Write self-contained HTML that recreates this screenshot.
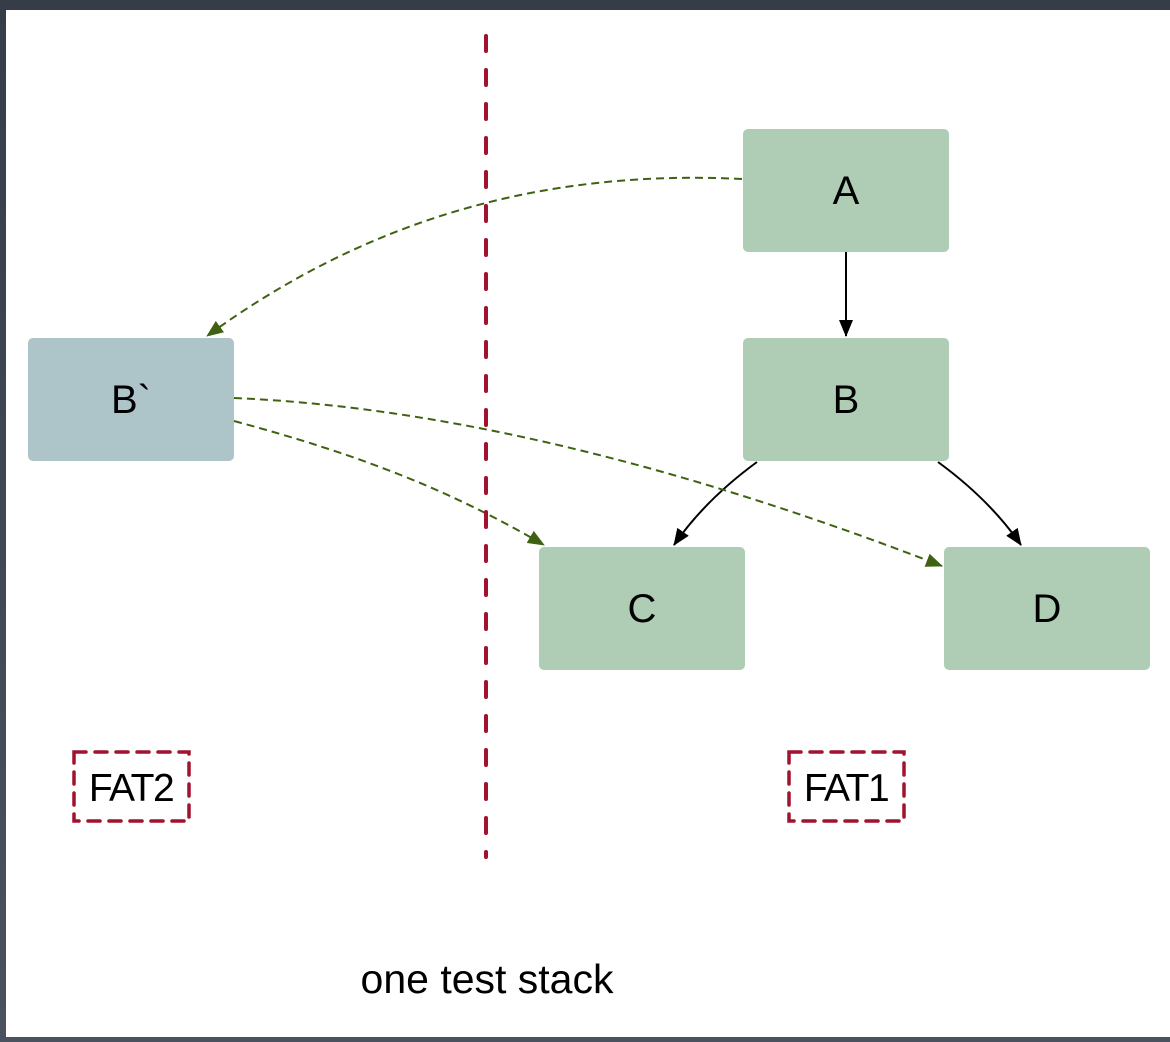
<!DOCTYPE html>
<html><head><meta charset="utf-8"><style>
html,body{margin:0;padding:0;width:1170px;height:1042px;overflow:hidden;background:linear-gradient(#363d48,#4a5260);}
svg{position:absolute;left:0;top:0}
</style></head><body>
<svg width="1170" height="1042" viewBox="0 0 1170 1042" xmlns="http://www.w3.org/2000/svg">
<defs>
<marker id="g" markerWidth="17" markerHeight="14" refX="16" refY="7" orient="auto" markerUnits="userSpaceOnUse" viewBox="0 0 17 14"><path d="M0,0 L17,7 L0,14 z" fill="#3f6212"/></marker>
<marker id="k" markerWidth="17" markerHeight="14" refX="16" refY="7" orient="auto" markerUnits="userSpaceOnUse" viewBox="0 0 17 14"><path d="M0,0 L17,7 L0,14 z" fill="#000"/></marker>
</defs>
<rect x="6" y="10" width="1164" height="1027" fill="#fff"/>
<g font-family="Liberation Sans, sans-serif" font-size="40" text-anchor="middle" fill="#000">
<rect x="743" y="129" width="206" height="123" rx="5" fill="#aecdb4"/>
<text x="846" y="204">A</text>
<rect x="743" y="338" width="206" height="123" rx="5" fill="#aecdb4"/>
<text x="846" y="413">B</text>
<rect x="28" y="338" width="206" height="123" rx="5" fill="#adc4c8"/>
<text x="131" y="413">B`</text>
<rect x="539" y="547" width="206" height="123" rx="5" fill="#aecdb4"/>
<text x="642" y="622">C</text>
<rect x="944" y="547" width="206" height="123" rx="5" fill="#aecdb4"/>
<text x="1047" y="622">D</text>
</g>
<g fill="none" stroke-width="2">
<path d="M846,252 L846,336" stroke="#000" marker-end="url(#k)"/>
<path d="M757,462 Q705,500 674,545" stroke="#000" marker-end="url(#k)"/>
<path d="M938,462 Q990,500 1021,545" stroke="#000" marker-end="url(#k)"/>
<g stroke="#3f6212" stroke-dasharray="8,5">
<path d="M742,179 C560,170 380,210 207,336" marker-end="url(#g)"/>
<path d="M234,398 C470,408 720,480 942,566" marker-end="url(#g)"/>
<path d="M234,421 C360,455 450,490 544,545" marker-end="url(#g)"/>
</g>
</g>
<g fill="none" stroke="#a0122e" stroke-width="4" stroke-dasharray="15,19" stroke-linecap="round">
<path d="M486,36 L486,857"/>
</g>
<g fill="none" stroke="#a0122e" stroke-width="3.5" stroke-dasharray="12,9" stroke-linecap="round">
<rect x="74" y="752" width="115" height="69"/>
<rect x="789" y="752" width="115" height="69"/>
</g>
<g font-family="Liberation Sans, sans-serif" text-anchor="middle" fill="#000">
<text x="131" y="801" font-size="39" letter-spacing="-1.5">FAT2</text>
<text x="846" y="801" font-size="39" letter-spacing="-1.5">FAT1</text>
<text x="487" y="993" font-size="41">one test stack</text>
</g>
</svg>
</body></html>
